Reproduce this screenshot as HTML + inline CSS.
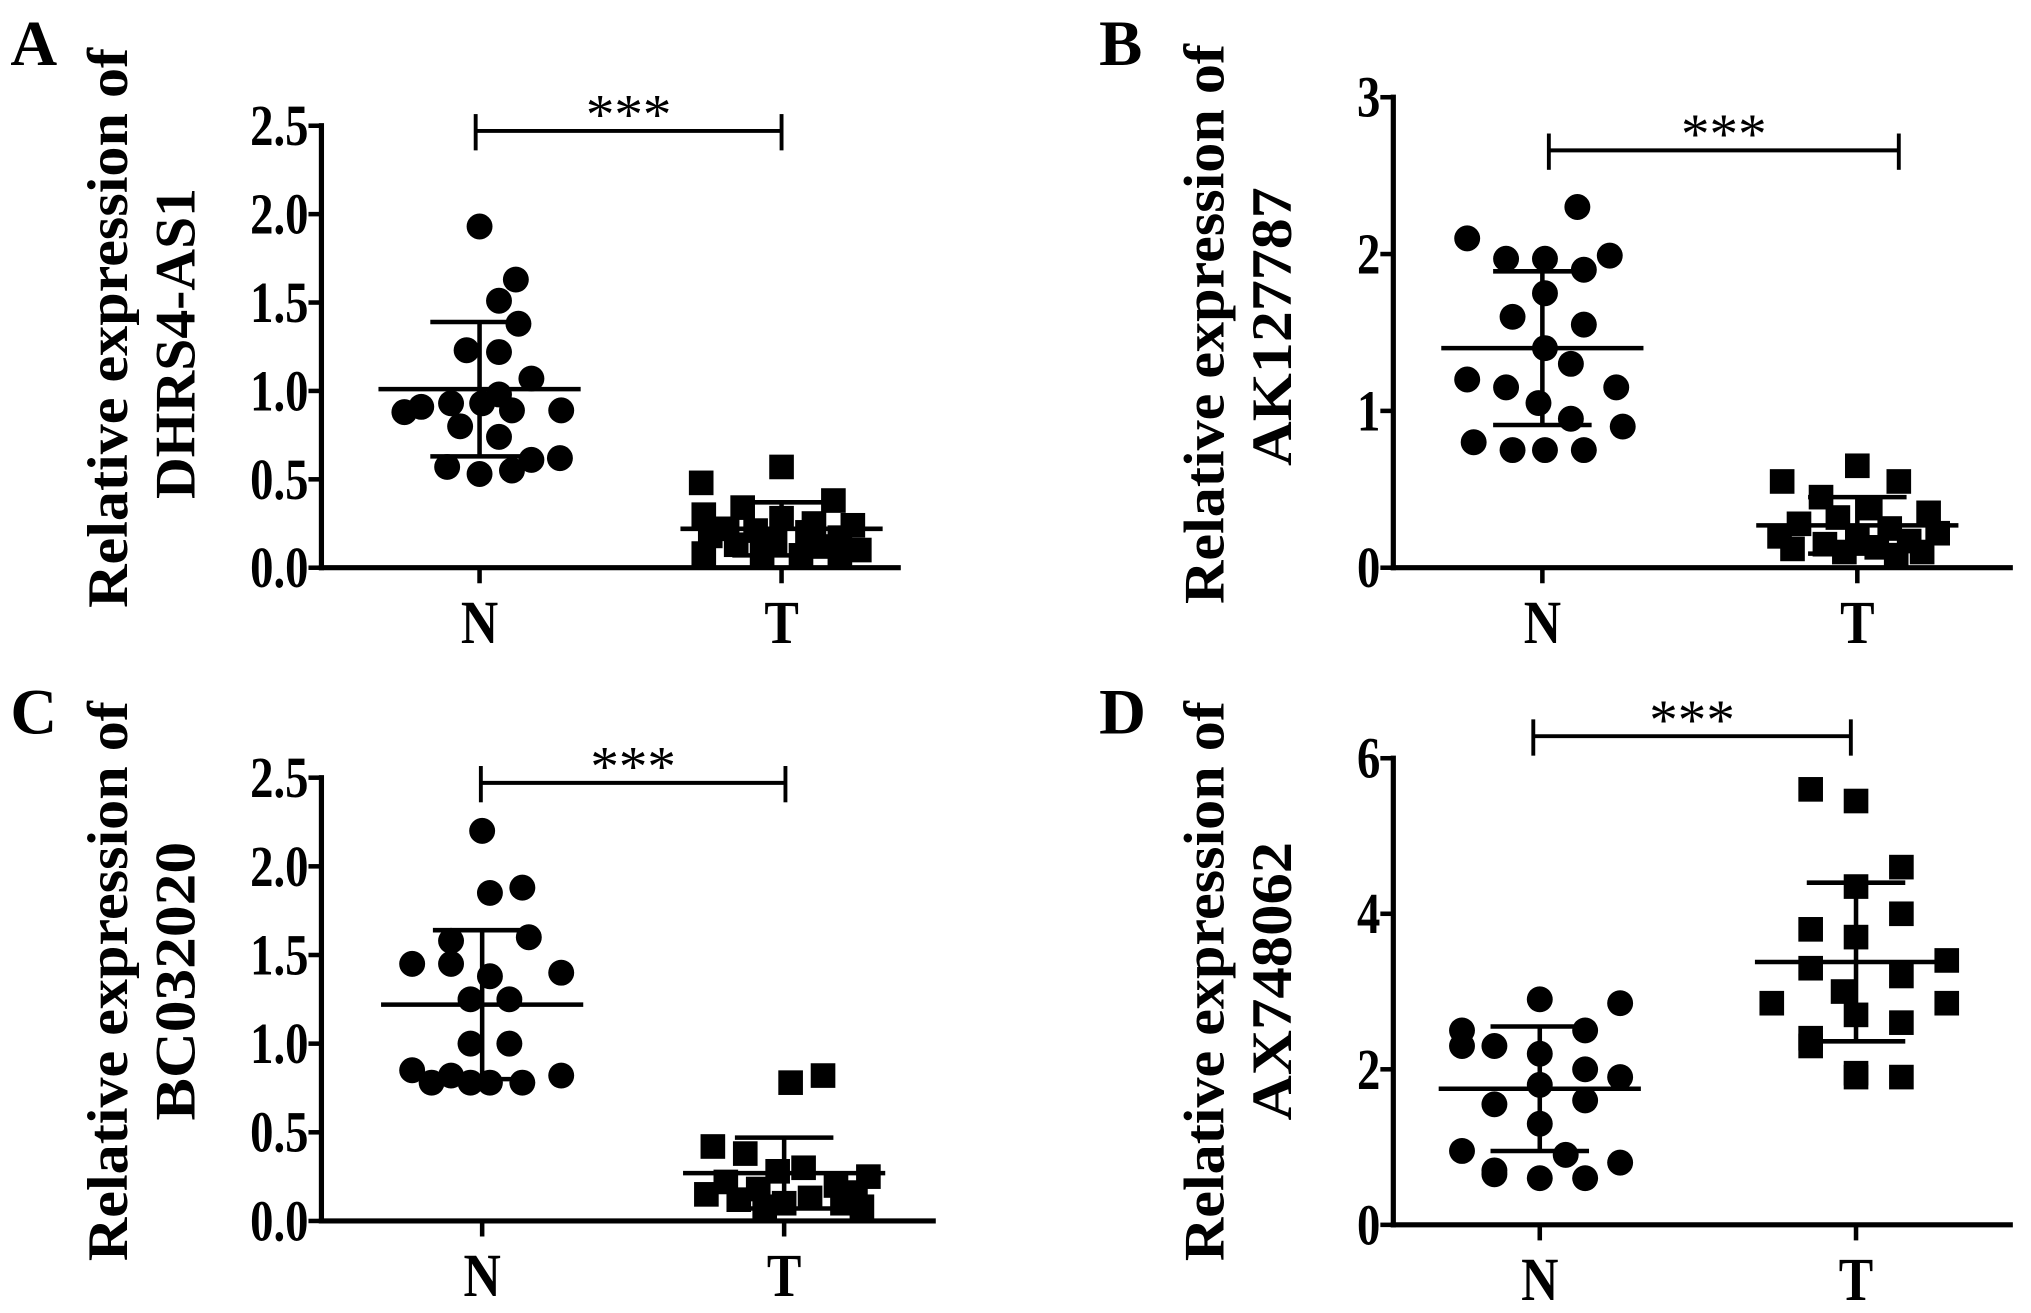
<!DOCTYPE html>
<html><head><meta charset="utf-8"><style>
html,body{margin:0;padding:0;background:#fff;}
svg{display:block;font-family:"Liberation Serif",serif;font-weight:bold;}
</style></head><body>
<svg id="fig" width="2031" height="1313" viewBox="0 0 1567 1013" xmlns="http://www.w3.org/2000/svg"></svg>
<script>
// Panel A
const aNVals=[1.93,1.63,1.51,1.38,1.23,1.22,1.07,0.98,0.91,0.93,0.93,0.89,0.89,0.88,0.80,0.74,0.61,0.57,0.53,0.55,0.62];
const aNJit=[0,28,15,30,-10,15,40,15,-45,-22,2,25,63,-58,-15,15,40,-25,0,25,62];
const aTVals=[0.57,0.48,0.38,0.34,0.30,0.28,0.25,0.24,0.22,0.21,0.20,0.18,0.17,0.15,0.13,0.12,0.10,0.08,0.08,0.07,0.07];
const aTJit=[0,-62,40,-30,-60,0,25,55,-42,-20,20,-55,45,-5,-35,30,60,-60,-15,15,45];
const aStats=[1.01,0.38,0.22,0.15];
const aTicks=["0.0","0.5","1.0","1.5","2.0","2.5"];
// Panel B
const bNVals=[2.30,2.10,1.97,1.97,1.99,1.90,1.75,1.60,1.55,1.40,1.30,1.20,1.15,1.15,1.05,0.95,0.90,0.80,0.75,0.75,0.75];
const bNJit=[27,-58,-28,2,52,32,2,-23,32,2,22,-58,57,-28,-3,22,62,-53,-23,2,32];
const bTVals=[0.65,0.55,0.55,0.45,0.38,0.35,0.32,0.28,0.25,0.22,0.20,0.18,0.17,0.15,0.13,0.12,0.10,0.10,0.08];
const bTJit=[0,-58,32,-28,10,55,-15,-45,25,62,-60,0,40,-25,15,-50,50,-10,30];
const bStats=[1.40,0.49,0.27,0.18];
const bTicks=["0","1","2","3"];
// Panel C
const cNVals=[2.20,1.88,1.85,1.60,1.58,1.45,1.45,1.40,1.38,1.25,1.25,1.00,1.00,0.85,0.82,0.82,0.78,0.78,0.78,0.78];
const cNJit=[0,31,6,36,-24,-54,-24,61,6,-9,21,-9,21,-54,61,-24,-39,6,31,-9];
const cTVals=[0.82,0.78,0.42,0.38,0.30,0.28,0.25,0.22,0.20,0.18,0.16,0.15,0.13,0.12,0.10,0.10,0.08,0.08];
const cTJit=[30,5,-55,-30,15,-5,65,-45,40,-20,55,-60,20,-35,0,45,-15,60];
const cStats=[1.22,0.42,0.27,0.20];
const cTicks=["0.0","0.5","1.0","1.5","2.0","2.5"];
// Panel D
const dNVals=[2.90,2.85,2.50,2.50,2.30,2.30,2.20,2.00,1.90,1.80,1.60,1.55,1.30,0.95,0.90,0.80,0.70,0.65,0.60,0.60];
const dNJit=[0,62,-60,35,-60,-35,0,35,62,0,35,-35,0,-60,20,62,-35,-35,0,35];
const dTVals=[5.60,5.45,4.60,4.35,4.00,3.80,3.70,3.40,3.30,3.20,3.00,2.85,2.85,2.70,2.60,2.40,2.30,1.95,1.90,1.90];
const dTJit=[-35,0,35,0,35,-35,0,70,-35,35,-10,-65,70,0,35,-35,-35,0,35,0];
const dStats=[1.75,0.80,3.38,1.02];
const dTicks=["0","2","4","6"];

const svg=document.getElementById('fig');
const NS="http://www.w3.org/2000/svg";
function mk(tag,attrs,parent){const e=document.createElementNS(NS,tag);for(const k in attrs)e.setAttribute(k,attrs[k]);(parent||svg).appendChild(e);return e;}
function line(g,x1,y1,x2,y2,w){return mk('line',{x1,y1,x2,y2,stroke:'#000','stroke-width':w||3.5},g);}

function panel(cfg){
  const g=mk('g',{});
  
  
  const ymax=parseFloat(cfg.ticks[cfg.ticks.length-1]);
  const y=v=>cfg.y0-(v/ymax)*(cfg.y0-cfg.yTop);
  const ya=line(g,cfg.ax,cfg.yTop-2,cfg.ax,cfg.y0+2,4);
  
  
  const xa=line(g,cfg.ax-2,cfg.y0,cfg.xEnd,cfg.y0,4);
  
  
  cfg.ticks.forEach(t=>{
    const yy=y(parseFloat(t));
    line(g,cfg.ax-10,yy,cfg.ax,yy,3.5);
    const tx=mk('text',{transform:`translate(${cfg.ax-10},${yy+15}) scale(0.9,1.12)`,'text-anchor':'end','font-size':40},g);
    tx.textContent=t;
    
    
  });
  [[cfg.nx,'N'],[cfg.tx,'T']].forEach(([xx,l])=>{
    line(g,xx,cfg.y0,xx,cfg.y0+12,3.5);
    const tx=mk('text',{transform:`translate(${xx},${cfg.y0+58}) scale(0.95,1.12)`,'text-anchor':'middle','font-size':42},g);
    tx.textContent=l;
    
    
  });
  const tt=mk('text',{transform:`translate(${cfg.titleX},${cfg.titleY}) rotate(-90)`,'text-anchor':'middle','font-size':44,textLength:432,lengthAdjust:'spacingAndGlyphs'},g);
  tt.textContent='Relative expression of';
  
  
  const t2=mk('text',{transform:`translate(${cfg.titleX+52},${cfg.titleY+cfg.geneShift}) rotate(-90)`,'text-anchor':'middle','font-size':44,textLength:cfg.geneLen,lengthAdjust:'spacingAndGlyphs'},g);
  t2.textContent=cfg.gene;
  
  
  const pl=mk('text',{x:cfg.letterX,y:cfg.letterY,'font-size':50},g);
  pl.textContent=cfg.id;
  
  
  cfg.nVals.forEach((v,i)=>{
    const c=mk('circle',{cx:cfg.nx+cfg.nJit[i],cy:y(v),r:10,fill:'#000'},g);
    
    
  });
  cfg.tVals.forEach((v,i)=>{
    const r=mk('rect',{x:cfg.tx+cfg.tJit[i]-9.5,y:y(v)-9.5,width:19,height:19,fill:'#000'},g);
    
    
  });
  [[cfg.nx,cfg.stats[0],cfg.stats[1]],[cfg.tx,cfg.stats[2],cfg.stats[3]]].forEach(([xx,m,s])=>{
    const eb=mk('g',{},g);
    
    
    line(eb,xx-78,y(m),xx+78,y(m),3.5);
    line(eb,xx,y(m+s),xx,y(Math.max(0,m-s)),3.5);
    line(eb,xx-38,y(m+s),xx+38,y(m+s),3.5);
    line(eb,xx-38,y(Math.max(0,m-s)),xx+38,y(Math.max(0,m-s)),3.5);
  });
  const sg=mk('g',{},g);
  
  
  line(sg,cfg.s1,cfg.sy,cfg.s2,cfg.sy,3);
  line(sg,cfg.s1,cfg.sy-13,cfg.s1,cfg.sy+15,3);
  line(sg,cfg.s2,cfg.sy-13,cfg.s2,cfg.sy+15,3);
  const st=mk('text',{x:(cfg.s1+cfg.s2)/2,y:cfg.sy+2,'text-anchor':'middle','font-size':44,'font-weight':'normal'},sg);
  st.textContent='***';
}
panel({id:'A',gene:'DHRS4-AS1',geneLen:240,geneShift:12,ticks:aTicks,ax:248,y0:438,yTop:97,xEnd:695,nx:370,tx:603,nVals:aNVals,nJit:aNJit,tVals:aTVals,tJit:aTJit,stats:aStats,s1:367,s2:603,sy:101,titleX:98,titleY:253,letterX:8,letterY:50});
panel({id:'B',gene:'AK127787',geneLen:215,geneShift:2,ticks:bTicks,ax:1075,y0:438,yTop:75,xEnd:1553,nx:1190,tx:1433,nVals:bNVals,nJit:bNJit,tVals:bTVals,tJit:bTJit,stats:bStats,s1:1195,s2:1465,sy:116,titleX:944,titleY:250,letterX:848,letterY:50});
panel({id:'C',gene:'BC032020',geneLen:215,geneShift:0,ticks:cTicks,ax:248,y0:942,yTop:600,xEnd:722,nx:372,tx:605,nVals:cNVals,nJit:cNJit,tVals:cTVals,tJit:cTJit,stats:cStats,s1:371,s2:606,sy:604,titleX:98,titleY:757,letterX:8,letterY:566});
panel({id:'D',gene:'AX748062',geneLen:215,geneShift:0,ticks:dTicks,ax:1075,y0:945,yTop:585,xEnd:1553,nx:1188,tx:1432,nVals:dNVals,nJit:dNJit,tVals:dTVals,tJit:dTJit,stats:dStats,s1:1183,s2:1428,sy:568,titleX:944,titleY:757,letterX:848,letterY:566});
</script>
</body></html>
